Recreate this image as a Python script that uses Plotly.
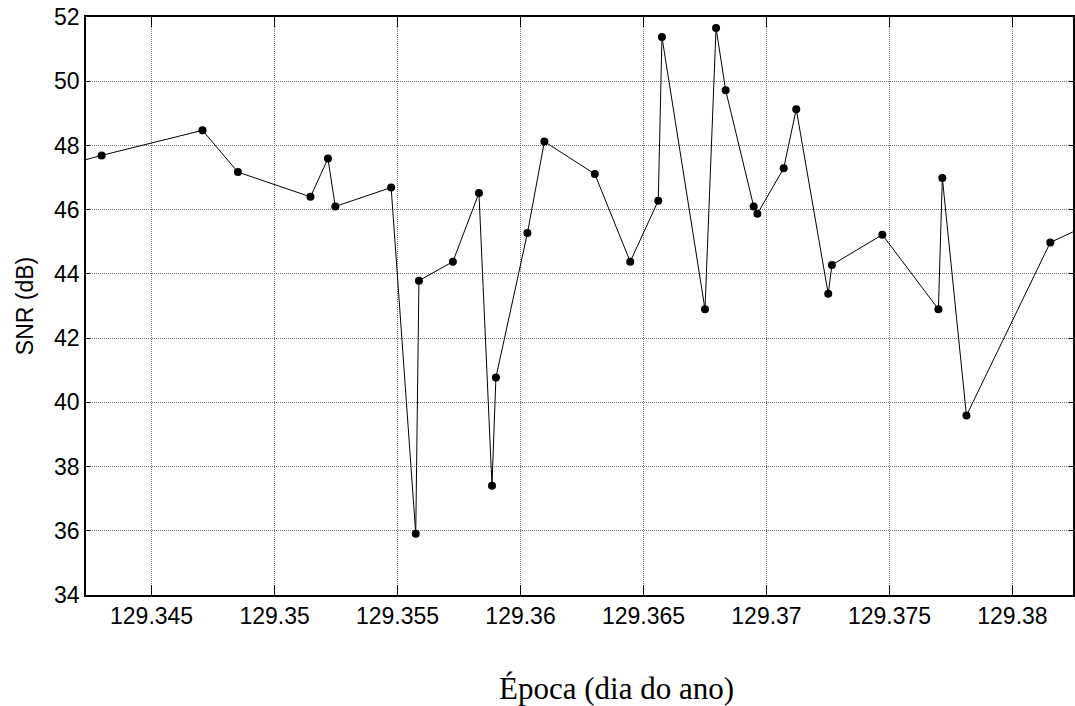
import plotly.graph_objects as go

# Epoch (day of year) and SNR (dB)
epoca = [129.3410, 129.34297, 129.34707, 129.34851, 129.35146, 129.35217, 129.35247,
         129.35474, 129.35574, 129.35587, 129.35725, 129.35831, 129.35884, 129.35900,
         129.36028, 129.36097, 129.36302, 129.36446, 129.36560, 129.36575, 129.36750,
         129.36795, 129.36834, 129.36948, 129.36963, 129.37070, 129.37121, 129.37251,
         129.37266, 129.37471, 129.37699, 129.37715, 129.37813, 129.38154, 129.3835]
snr = [47.28, 47.69, 48.47, 47.17, 46.40, 47.59, 46.10,
       46.69, 35.91, 43.79, 44.38, 46.52, 37.40, 40.77,
       45.27, 48.12, 47.11, 44.38, 46.28, 51.38, 42.90,
       51.66, 49.72, 46.10, 45.87, 47.29, 49.13, 43.38,
       44.28, 45.22, 42.90, 46.99, 39.59, 44.98, 45.68]

x_tickvals = [129.345, 129.35, 129.355, 129.36, 129.365, 129.37, 129.375, 129.38]
x_ticktext = ["129.345", "129.35", "129.355", "129.36", "129.365", "129.37", "129.375", "129.38"]
y_tickvals = [34, 36, 38, 40, 42, 44, 46, 48, 50, 52]

fig = go.Figure()
fig.add_trace(go.Scatter(
    x=epoca, y=snr, mode="lines+markers",
    line=dict(color="black", width=1),
    marker=dict(color="black", size=8),
    showlegend=False,
))

fig.update_layout(
    width=1075, height=706,
    margin=dict(l=86, r=0, t=17, b=111),
    paper_bgcolor="white", plot_bgcolor="white",
    font=dict(family="Liberation Sans, Arial, sans-serif", size=23, color="black"),
    xaxis=dict(
        range=[129.342334, 129.382462],
        tickvals=x_tickvals, ticktext=x_ticktext,
        ticks="inside", ticklen=10, tickcolor="black", tickwidth=1,
        showline=True, linecolor="black", linewidth=1.5, mirror="ticks",
        showgrid=True, gridcolor="#777777", griddash="1px,1px", gridwidth=1,
        zeroline=False,
        tickfont=dict(size=23),
    ),
    yaxis=dict(
        range=[34, 52],
        tickvals=y_tickvals,
        ticks="inside", ticklen=4, tickcolor="black", tickwidth=1,
        showline=True, linecolor="black", linewidth=1.5, mirror="ticks",
        showgrid=True, gridcolor="#777777", griddash="1px,1px", gridwidth=1,
        zeroline=False,
        tickfont=dict(size=23),
        title=dict(text="SNR (dB)", font=dict(size=23), standoff=14),
    ),
    annotations=[dict(
        text="Época (dia do ano)", xref="paper", yref="paper",
        x=0.537, y=-0.161, xanchor="center", yanchor="middle",
        showarrow=False,
        font=dict(family="Liberation Serif, Times New Roman, serif", size=31, color="black"),
    )],
)

fig.write_html("out.html")
